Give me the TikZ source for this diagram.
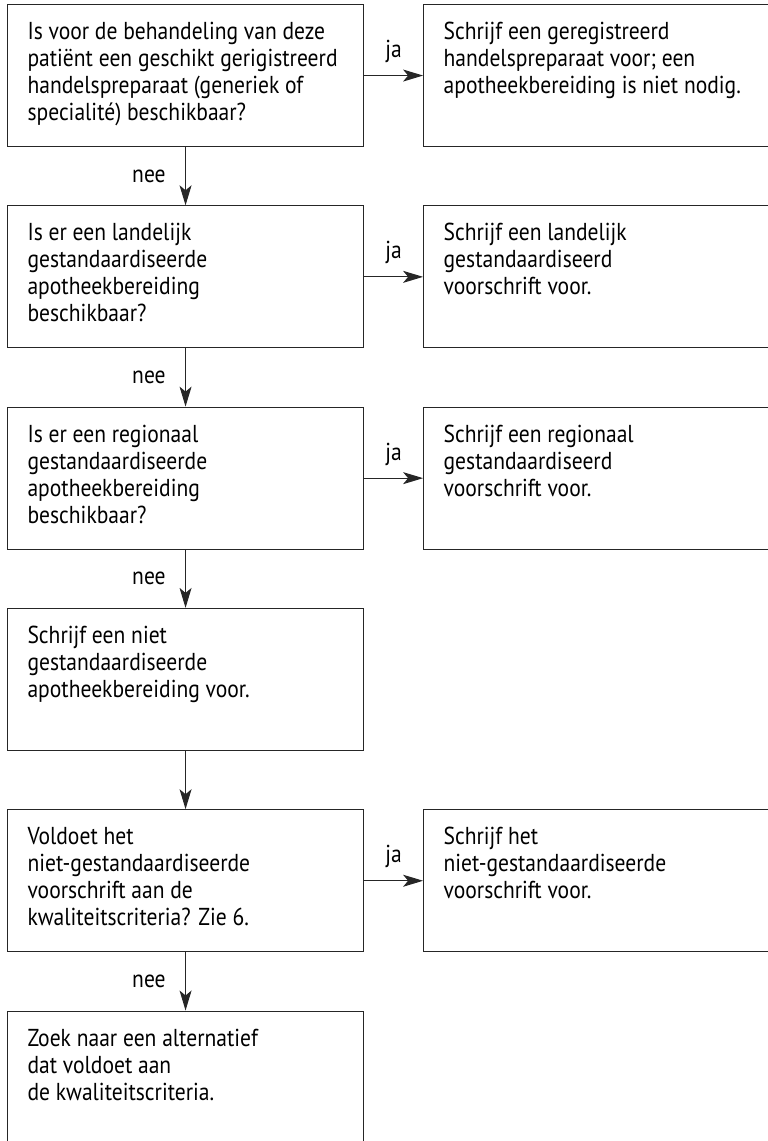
\documentclass[tikz,border=0pt]{standalone}
\usepackage{fontspec}
\setmainfont{PT Sans}[FakeStretch=0.88]
\usetikzlibrary{arrows.meta, positioning}

\newcommand{\boxtext}[1]{\parbox[t][108pt][t]{316pt}{\rule{0pt}{18pt}#1}}

\begin{document}
\begin{tikzpicture}[
      x=1pt, y=1pt,
      node distance=58.2pt and 59pt,
      box/.style={draw=black!85, line width=1.1pt, inner xsep=20pt,
                  inner ysep=17pt, font=\fontsize{24.5}{27}\selectfont},
      arrow/.style={-{Stealth[length=20pt, width=12pt, inset=5pt]},
                    line width=1.1pt, draw=black!85},
      lbl/.style={font=\fontsize{24.5}{27}\selectfont}
    ]
    \path[use as bounding box, clip] (0,0) rectangle (768,-1141);
    \node[box, anchor=north west] (q1) at (7,-4) {\boxtext{Is voor de behandeling van deze\\patiënt een geschikt gerigistreerd\\handelspreparaat (generiek of\\specialité) beschikbaar?}};
    \node[box, right=of q1] (a1) {\boxtext{Schrijf een geregistreerd\\handelspreparaat voor; een\\apotheekbereiding is niet nodig.}};
    \node[box, below=of q1] (q2) {\boxtext{Is er een landelijk\\gestandaardiseerde\\apotheekbereiding\\beschikbaar?}};
    \node[box, right=of q2] (a2) {\boxtext{Schrijf een landelijk\\gestandaardiseerd\\voorschrift voor.}};
    \node[box, below=of q2] (q3) {\boxtext{Is er een regionaal\\gestandaardiseerde\\apotheekbereiding\\beschikbaar?}};
    \node[box, right=of q3] (a3) {\boxtext{Schrijf een regionaal\\gestandaardiseerd\\voorschrift voor.}};
    \node[box, below=of q3] (s4) {\boxtext{Schrijf een niet\\gestandaardiseerde\\apotheekbereiding voor.}};
    \node[box, below=of s4] (q5) {\boxtext{Voldoet het\\niet-gestandaardiseerde\\voorschrift aan de\\kwaliteitscriteria? Zie 6.}};
    \node[box, right=of q5] (a5) {\boxtext{Schrijf het\\niet-gestandaardiseerde\\voorschrift voor.}};
    \node[box, below=of q5] (s6) {\boxtext{Zoek naar een alternatief\\dat voldoet aan\\de kwaliteitscriteria.}};

    \draw[arrow] (q1) -- node[lbl, above=9pt] {ja} (a1);
    \draw[arrow] (q2) -- node[lbl, above=9pt] {ja} (a2);
    \draw[arrow] (q3) -- node[lbl, above=9pt] {ja} (a3);
    \draw[arrow] (q5) -- node[lbl, above=9pt] {ja} (a5);
    \draw[arrow] (q1) -- node[lbl, left=16pt] {nee} (q2);
    \draw[arrow] (q2) -- node[lbl, left=16pt] {nee} (q3);
    \draw[arrow] (q3) -- node[lbl, left=16pt] {nee} (s4);
    \draw[arrow] (s4) -- (q5);
    \draw[arrow] (q5) -- node[lbl, left=16pt] {nee} (s6);
  \end{tikzpicture}
\end{document}
